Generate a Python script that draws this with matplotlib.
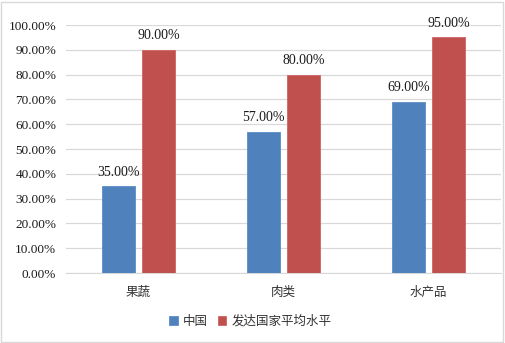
import matplotlib
matplotlib.use("Agg")
import matplotlib.pyplot as plt
from matplotlib.patches import Rectangle
import numpy as np

categories = ["果蔬", "肉类", "水产品"]
china = [0.35, 0.57, 0.69]
developed = [0.90, 0.80, 0.95]
series_names = ["中国", "发达国家平均水平"]
yticks = [i / 10 for i in range(11)]

serif = ["Liberation Serif", "DejaVu Serif"]
cjk = ["Noto Sans CJK SC", "DejaVu Sans"]

fig = plt.figure(figsize=(5.05, 3.43), dpi=100)
ax = fig.add_axes([66 / 505, 70 / 343, 435 / 505, 248 / 343])

x = np.arange(len(categories))
w = 0.225
b1 = ax.bar(x - 0.14, china, w, color="#4F81BD", edgecolor="#5B8CC8", linewidth=0.6,
            label=series_names[0], zorder=3)
b2 = ax.bar(x + 0.14, developed, w, color="#C0504D", edgecolor="#D06461", linewidth=0.6,
            label=series_names[1], zorder=3)

for bars in (b1, b2):
    for r in bars:
        ax.text(r.get_x() + r.get_width() / 2, r.get_height() + 0.03,
                f"{r.get_height() * 100:.2f}%", ha="center", va="bottom",
                fontsize=10, family=serif, color="#1a1a1a")

ax.set_xlim(-0.5, 2.5)
ax.set_ylim(0, 1)
ax.set_yticks(yticks)
ax.set_yticklabels([f"{t * 100:.2f}%" for t in yticks], family=serif, fontsize=9.5, color="#1a1a1a")
ax.set_xticks(x)
ax.set_xticklabels(categories, family=cjk, fontsize=9, color="#333333")
ax.tick_params(axis="both", length=0)
ax.tick_params(axis="y", pad=7)
ax.tick_params(axis="x", pad=9)
ax.grid(axis="y", color="#D9D9D9", linewidth=0.9, zorder=0)
for s in ["top", "right", "left"]:
    ax.spines[s].set_visible(False)
ax.spines["bottom"].set_color("#D9D9D9")

leg = fig.legend(handles=[b1, b2], loc="center", bbox_to_anchor=(250 / 505, 1 - 321 / 343),
                 ncol=2, frameon=False, prop={"family": cjk, "size": 9},
                 handlelength=0.7, handleheight=0.7, handletextpad=0.4, columnspacing=0.8)
for t in leg.get_texts():
    t.set_color("#333333")

fig.patches.append(Rectangle((1 / 505, 1 / 343), 502 / 505, 340 / 343, transform=fig.transFigure,
                             fill=False, edgecolor="#D9D9D9", linewidth=1))

fig.savefig("out.png", dpi=100)
